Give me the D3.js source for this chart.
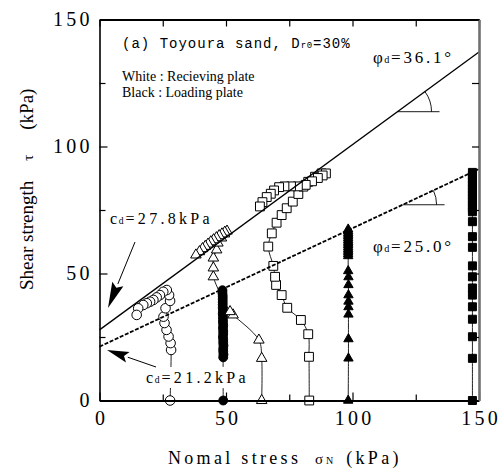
<!DOCTYPE html>
<html><head><meta charset="utf-8">
<script src="https://cdn.jsdelivr.net/npm/d3@7"></script>
<style>
html,body{margin:0;padding:0;background:#fff;}
svg{display:block;}
</style></head><body>
<svg id="chart" width="501" height="468"></svg>
<script>
// Tick values (kPa)
const xMajorTicks = [0, 50, 100, 150];
const xMinorTicks = [25, 75, 125];
const yMajorTicks = [0, 50, 100, 150];
const yMinorTicks = [25, 75, 125];

// Failure envelopes: cohesion c_d (kPa) and friction angle phi_d (deg)
const envelopeCohesion = [27.8, 21.2];
const envelopeAngle = [36.1, 25.0];

// Stress paths, [sigma_N, tau] in kPa — white: receiving plate, black: loading plate
const recvCircle = [[27.9,0],[28.3,19.9],[28.1,22.6],[27.3,25.2],[26.5,27.8],[25.7,30.5],[25.3,33.0],[26.1,36.3],[27.9,39.2],[27.5,41.5],[26.6,43.5],[25.2,42.8],[23.9,41.5],[22.6,40.6],[21.3,39.6],[20.0,38.9],[18.7,38.3],[17.3,37.6],[15.3,36.3],[14.7,33.7]];
const loadCircle = [[48.9,0],[48.9,17.0],[49.0,18.1],[48.9,19.3],[48.9,20.4],[49.0,21.6],[48.9,22.7],[48.9,23.9],[48.8,25.0],[48.9,26.2],[48.9,27.3],[48.8,28.5],[48.9,29.6],[48.8,30.8],[48.8,31.9],[48.8,33.1],[48.7,34.2],[48.8,35.4],[48.7,36.5],[48.7,37.7],[48.7,38.8],[48.7,40.0],[48.7,41.1],[48.6,42.3],[48.6,43.4]];
const recvTriangle = [[64.1,0],[64.1,16.6],[63.0,23.8],[52.8,33.7],[51.6,35.0],[45.0,48.7],[45.0,52.2],[45.0,56.1],[46.3,59.3],[46.8,62.0],[48.2,64.0],[49.4,65.6],[50.4,66.7],[49.5,66.3],[48.4,65.6],[47.3,64.9],[46.2,64.1],[45.1,63.3],[44.0,62.5],[42.9,61.6],[41.8,60.7],[40.7,59.8],[39.5,58.6],[38.1,57.3]];
const recvSquare = [[82.9,0],[82.8,17.2],[82.5,26.1],[79.6,31.7],[74.2,36.5],[72.0,41.5],[69.8,45.5],[69.4,48.7],[68.7,53.0],[66.7,60.6],[68.1,65.8],[70.0,70.0],[72.0,73.0],[74.0,75.7],[76.4,78.3],[78.6,81.3],[80.6,84.2],[82.5,86.1],[85.2,88.1],[87.8,89.4],[89.5,89.4],[88.2,88.6],[86.3,87.6],[84.0,86.3],[81.5,84.9],[78.4,84.3],[75.7,84.3],[73.1,84.3],[71.0,84.0],[69.0,82.7],[67.7,81.4],[66.1,80.1],[64.4,78.1],[63.4,76.4]];
const loadTriangle = [[98.3,0],[98.4,16.6],[98.4,24.2],[98.4,33.9],[98.4,36.8],[98.4,39.0],[98.4,41.5],[98.4,45.5],[98.4,48.6],[98.3,51.0],[98.3,56.9],[98.3,57.6],[98.3,58.3],[98.3,59.0],[98.3,59.7],[98.3,60.4],[98.3,61.1],[98.3,61.8],[98.3,62.5],[98.3,63.2],[98.3,63.9],[98.3,64.6],[98.3,65.3],[98.3,66.0],[98.3,66.7],[98.3,67.4]];
const loadSquare = [[147.4,0],[147.4,16.6],[147.4,25.1],[147.4,32.0],[147.4,36.9],[147.4,41.5],[147.4,44.3],[147.4,48.7],[147.4,53.0],[147.4,60.3],[147.4,64.5],[147.4,70.4],[147.4,74.3],[147.4,75.6],[147.4,76.9],[147.4,78.2],[147.4,79.5],[147.4,80.8],[147.4,82.1],[147.4,83.4],[147.4,84.7],[147.4,86.0],[147.4,87.3],[147.4,88.6],[147.4,89.8]];

const SERIF = '"Liberation Serif","Times New Roman",serif';
const MONO = '"Liberation Mono","Courier New",monospace';
const svg = d3.select('#chart');
const x = d3.scaleLinear().domain([0, 150]).range([99.5, 479]);
const y = d3.scaleLinear().domain([0, 150]).range([400.5, 19.5]);

// spread the glyphs of a text/tspan by a fixed gap using a per-character dx list
function spaced(sel, str, gap, lead) {
  const n = Array.from(str).length;
  const dx = [lead || 0].concat(Array(Math.max(n - 1, 0)).fill(gap));
  return sel.text(str).attr('dx', dx.join(' '));
}

// ---- stress paths (connecting lines) ----
const pathLine = d3.line().x(d => x(d[0])).y(d => y(d[1])).curve(d3.curveCatmullRom.alpha(0.5));
const series = [
  {data: recvCircle, type: d3.symbolCircle, size: 72, fill: '#fff'},
  {data: loadCircle, type: d3.symbolCircle, size: 62, fill: '#000'},
  {data: recvTriangle, type: d3.symbolTriangle, size: 48, fill: '#fff'},
  {data: recvSquare, type: d3.symbolSquare, size: 78, fill: '#fff'},
  {data: loadTriangle, type: d3.symbolTriangle, size: 38, fill: '#000'},
  {data: loadSquare, type: d3.symbolSquare, size: 64, fill: '#000'}
];
const gPaths = svg.append('g');
series.forEach(s => {
  gPaths.append('path').attr('d', pathLine(s.data))
    .attr('fill', 'none').attr('stroke', '#222').attr('stroke-width', 1);
});
series.forEach(s => {
  gPaths.append('g').selectAll('path').data(s.data).join('path')
    .attr('transform', d => `translate(${x(d[0])},${y(d[1])})`)
    .attr('d', d3.symbol(s.type, s.size))
    .attr('fill', s.fill).attr('stroke', '#000').attr('stroke-width', 1);
});

// ---- failure envelopes ----
const rad = Math.PI / 180;
const envelopes = envelopeCohesion.map((c, i) => ({c, phi: envelopeAngle[i]}));
const envLine = d3.line().x(d => x(d[0])).y(d => y(d[1]));
envelopes.forEach((e, i) => {
  const pts = [[0, e.c], [150, e.c + 150 * Math.tan(e.phi * rad)]];
  svg.append('path').attr('d', envLine(pts)).attr('fill', 'none')
    .attr('stroke', '#000').attr('stroke-width', i === 0 ? 1.3 : 1.8)
    .attr('stroke-dasharray', i === 0 ? null : '4,1.6');
});

// angle indicators on the envelopes
const angleAt = [117.8, 119.8];
envelopes.forEach((e, i) => {
  const s0 = angleAt[i];
  const px = x(s0), py = y(e.c + s0 * Math.tan(e.phi * rad));
  const qx = x(s0 + 10), qy = y(e.c + (s0 + 10) * Math.tan(e.phi * rad));
  const th = Math.atan2(py - qy, qx - px);
  const r = 34, len = 42;
  svg.append('path')
    .attr('d', `M${px},${py}H${px + len}M${px + r},${py}A${r},${r} 0 0 0 ${px + r * Math.cos(th)},${py - r * Math.sin(th)}`)
    .attr('fill', 'none').attr('stroke', '#000').attr('stroke-width', 0.9);
});

// ---- frame and axes ----
function styleAxis(g, color, w) {
  g.select('.domain').attr('stroke', color).attr('stroke-width', w);
  g.selectAll('.tick line').attr('stroke', '#000').attr('stroke-width', 1.2);
}
const tickFont = g => g.selectAll('text').attr('font-family', SERIF)
  .attr('font-size', 20).attr('fill', '#000')
  .each(function () { spaced(d3.select(this), d3.select(this).text(), 3.2); });

const gB = svg.append('g').attr('transform', `translate(0,${y(0)})`)
  .call(d3.axisBottom(x).tickValues(xMajorTicks).tickSize(-8).tickSizeOuter(0).tickPadding(10).tickFormat(d3.format('d')));
styleAxis(gB, '#000', 2); tickFont(gB);
const gBm = svg.append('g').attr('transform', `translate(0,${y(0)})`)
  .call(d3.axisBottom(x).tickValues(xMinorTicks).tickSize(-6).tickSizeOuter(0).tickFormat(''));
gBm.select('.domain').remove(); styleAxis(gBm, '#000', 1);

const gT = svg.append('g').attr('transform', `translate(0,${y(150)})`)
  .call(d3.axisTop(x).tickValues(xMajorTicks.concat(xMinorTicks)).tickSize(-7).tickSizeOuter(0).tickFormat(''));
styleAxis(gT, '#000', 2);

const gL = svg.append('g').attr('transform', `translate(${x(0)},0)`)
  .call(d3.axisLeft(y).tickValues(yMajorTicks).tickSize(-8).tickSizeOuter(0).tickPadding(10).tickFormat(d3.format('d')));
styleAxis(gL, '#000', 1.6); tickFont(gL);
const gLm = svg.append('g').attr('transform', `translate(${x(0)},0)`)
  .call(d3.axisLeft(y).tickValues(yMinorTicks).tickSize(-6).tickSizeOuter(0).tickFormat(''));
gLm.select('.domain').remove(); styleAxis(gLm, '#000', 1);

const gR = svg.append('g').attr('transform', `translate(${x(150)},0)`)
  .call(d3.axisRight(y).tickValues(yMajorTicks.concat(yMinorTicks)).tickSize(-7).tickSizeOuter(0).tickFormat(''));
styleAxis(gR, '#707070', 2.6);

// ---- axis titles ----
const yTitle = svg.append('text').attr('transform', 'translate(33,290) rotate(-90)')
  .attr('font-family', SERIF).attr('font-size', 19).attr('fill', '#000');
yTitle.append('tspan').text('Shear strength');
yTitle.append('tspan').attr('dx', 20).attr('font-size', 15).text('τ');
yTitle.append('tspan').attr('dx', 25).text('(kPa)');

const xTitle = svg.append('text').attr('x', 168).attr('y', 464)
  .attr('font-family', SERIF).attr('font-size', 18).attr('fill', '#000');
spaced(xTitle.append('tspan'), 'Nomal stress', 3.3);
xTitle.append('tspan').attr('dx', 17).attr('font-size', 15).text('σ');
xTitle.append('tspan').attr('dx', 3).attr('font-size', 10).text('N');
spaced(xTitle.append('tspan'), '(kPa)', 3.3, 13);

// ---- annotations ----
const note = svg.append('text').attr('x', 122).attr('y', 48)
  .attr('font-family', MONO).attr('font-size', 14).attr('fill', '#000');
spaced(note.append('tspan'), '(a) Toyoura sand, D', 1);
spaced(note.append('tspan').attr('font-size', 9), 'r0', 0.5, 1);
spaced(note.append('tspan'), '=30%', 1, 1);

svg.append('text').attr('x', 122).attr('y', 81).attr('font-family', SERIF).attr('font-size', 14).attr('fill', '#000')
  .text('White : Recieving plate');
svg.append('text').attr('x', 122).attr('y', 97).attr('font-family', SERIF).attr('font-size', 14).attr('fill', '#000')
  .text('Black : Loading plate');

function subLabel(xp, yp, main, sub, rest, size, gap, withBg) {
  const t = svg.append('text').attr('x', xp).attr('y', yp).attr('font-family', SERIF)
    .attr('font-size', size).attr('fill', '#000');
  t.append('tspan').text(main);
  t.append('tspan').attr('font-size', size * 0.6).attr('dx', gap * 0.5).text(sub);
  spaced(t.append('tspan'), rest, gap, gap * 0.6);
  if (withBg) {
    const b = t.node().getBBox();
    svg.insert('rect', () => t.node()).attr('x', b.x - 1).attr('y', b.y - 2)
      .attr('width', b.width + 2).attr('height', b.height + 4).attr('fill', '#fff');
  }
  return t;
}
subLabel(110, 224, 'c', 'd', '=' + envelopeCohesion[0].toFixed(1) + 'kPa', 16, 3.3, false);
subLabel(146, 383, 'c', 'd', '=' + envelopeCohesion[1].toFixed(1) + 'kPa', 16, 3.3, true);
subLabel(373, 63, 'φ', 'd', '=' + envelopeAngle[0].toFixed(1) + '°', 17, 2.8, false);
subLabel(373, 252, 'φ', 'd', '=' + envelopeAngle[1].toFixed(1) + '°', 17, 2.8, false);

// arrows pointing at the intercepts
function arrow(x0, y0, x1, y1, headLen, headHalf) {
  const dx = x1 - x0, dy = y1 - y0, L = Math.hypot(dx, dy);
  const ux = dx / L, uy = dy / L;
  const bx = x1 - ux * headLen, by = y1 - uy * headLen;
  svg.append('line').attr('x1', x0).attr('y1', y0).attr('x2', bx).attr('y2', by)
    .attr('stroke', '#000').attr('stroke-width', 1);
  svg.append('path').attr('d', `M${x1},${y1}L${bx - uy * headHalf},${by + ux * headHalf}L${bx + ux * 4},${by + uy * 4}L${bx + uy * headHalf},${by - ux * headHalf}Z`)
    .attr('fill', '#000');
}
arrow(135, 242, 108, 308, 26, 6);
arrow(156, 367, 107, 350, 22, 5.5);
</script>
</body></html>
